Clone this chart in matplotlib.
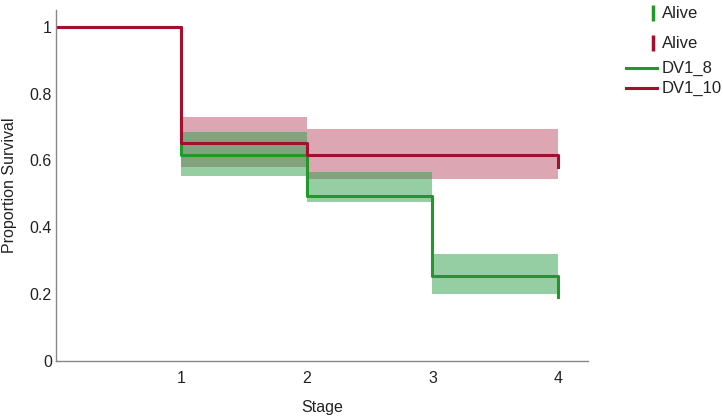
import matplotlib
matplotlib.use("Agg")
import matplotlib.pyplot as plt
from matplotlib.lines import Line2D

plt.rcParams['font.family'] = ['Liberation Sans', 'DejaVu Sans']

# Step times (stage) and survival values
stages_8 = [0, 1, 2, 3, 4, 4]
surv_8 = [1.0, 0.617, 0.494, 0.254, 0.19, 0.19]
ci_stages_8 = [1, 2, 3, 4]
ci_low_8 = [0.554, 0.476, 0.200]
ci_high_8 = [0.686, 0.566, 0.320]

stages_10 = [0, 1, 2, 4, 4]
surv_10 = [1.0, 0.653, 0.617, 0.581, 0.581]
ci_stages_10 = [1, 2, 4]
ci_low_10 = [0.581, 0.545]
ci_high_10 = [0.731, 0.695]

xticks = [1, 2, 3, 4]
yticks = [0, 0.2, 0.4, 0.6, 0.8, 1]
yticklabels = ['0', '0.2', '0.4', '0.6', '0.8', '1']

green = '#24972A'
red = '#A3102F'
green_band = '#2E9E48'
red_band = '#B0334F'

W, H = 723, 419
fig = plt.figure(figsize=(W / 100, H / 100), dpi=100)
ax = fig.add_axes([56 / W, 1 - 361 / H, (588 - 56) / W, (361 - 10) / H])

# confidence bands (red first, green over it)
for i in range(len(ci_low_10)):
    ax.fill_between([ci_stages_10[i], ci_stages_10[i + 1]], ci_low_10[i], ci_high_10[i],
                    color=red_band, alpha=0.43, lw=0)
for i in range(len(ci_low_8)):
    ax.fill_between([ci_stages_8[i], ci_stages_8[i + 1]], ci_low_8[i], ci_high_8[i],
                    color=green_band, alpha=0.5, lw=0)

ax.plot(stages_8, surv_8, drawstyle='steps-post', color=green, lw=2.2)
ax.plot(stages_10, surv_10, drawstyle='steps-post', color=red, lw=2.2)

ax.set_xlim(0, 4.24)
ax.set_ylim(0, 1.05)
ax.set_xticks(xticks)
ax.set_xticklabels([str(x) for x in xticks])
ax.set_yticks(yticks)
ax.set_yticklabels(yticklabels)
ax.tick_params(axis='both', length=0, labelsize=11.5, colors='#222222')
ax.tick_params(axis='x', pad=7)
ax.tick_params(axis='y', pad=3)
for s in ['top', 'right']:
    ax.spines[s].set_visible(False)
for s in ['left', 'bottom']:
    ax.spines[s].set_color('#888888')
    ax.spines[s].set_linewidth(1.0)

ax.set_xlabel('Stage', fontsize=11.5, labelpad=10, color='#222222')
ax.set_ylabel('Proportion Survival', fontsize=11.5, labelpad=9, color='#222222')

# legend (drawn manually in figure coordinates)
def fx(x):
    return x / W

def fy(y):
    return 1 - y / H

legend_alive = [(green, 13), (red, 43)]
for col, y in legend_alive:
    fig.add_artist(Line2D([fx(653)], [fy(y)], marker='|', markersize=11,
                          markeredgewidth=2.5, color=col, linestyle='none',
                          transform=fig.transFigure))
    fig.text(fx(662), fy(y), 'Alive', fontsize=12, va='center', ha='left', color='#222222')

legend_lines = [(green, 68, 'DV1_8'), (red, 88, 'DV1_10')]
for col, y, lab in legend_lines:
    fig.add_artist(Line2D([fx(626), fx(657)], [fy(y), fy(y)], color=col, lw=2.2,
                          transform=fig.transFigure))
    fig.text(fx(662), fy(y), lab, fontsize=12, va='center', ha='left', color='#222222')

fig.savefig('out.png', dpi=100)
